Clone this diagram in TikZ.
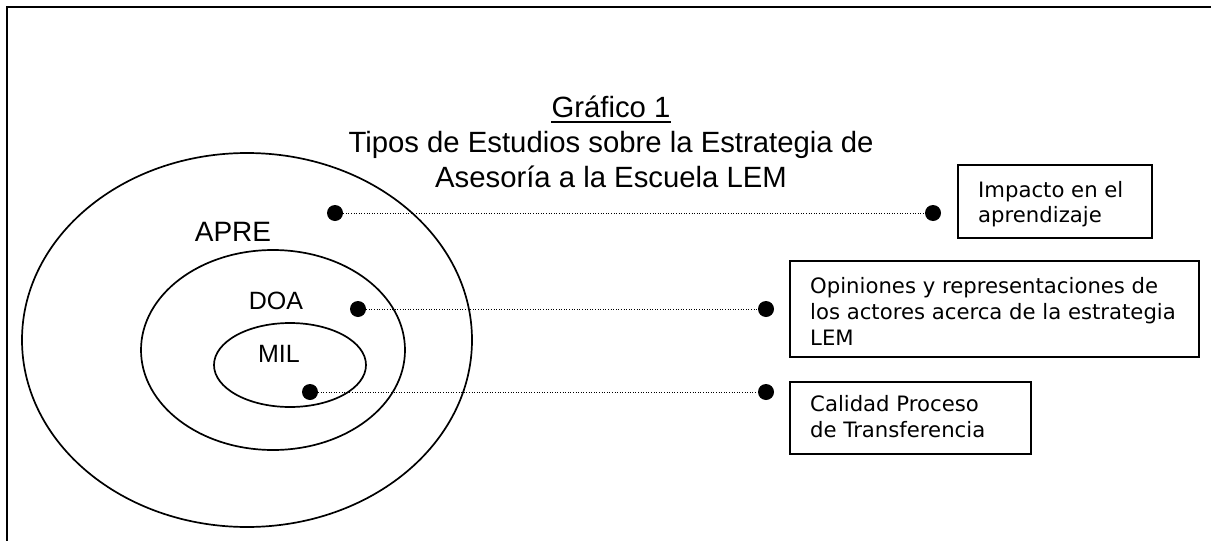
\documentclass[tikz,border=0pt]{standalone}
\usepackage{fontspec}
\setmainfont{Liberation Sans}
\newfontfamily\boxfont{DejaVu Sans}
\usetikzlibrary{shapes.geometric}
\begin{document}
\begin{tikzpicture}[x=1pt,y=-1pt,
  ring/.style={draw, ellipse, line width=1.7pt, inner sep=0pt},
  dot/.style={circle, fill=black, inner sep=0pt, minimum size=16pt},
  link/.style={line width=1pt, dash pattern=on 1pt off 1.6pt},
  titletext/.style={inner sep=0pt, anchor=base, font=\fontsize{29.3}{34}\selectfont},
  ringlabel/.style={inner sep=0pt, font=\fontsize{25}{30}\selectfont},
  infobox/.style={draw, line width=1.7pt, inner sep=0pt, anchor=north west},
  infotext/.style={inner sep=0pt, anchor=base west, font=\boxfont\fontsize{21.2}{25}\selectfont}]
\useasboundingbox (0,0) rectangle (1211,541);

% page frame (top and left edges)
\coordinate (fbl) at (7,541);
\coordinate (ftl) at (7,7);
\coordinate (ftr) at (1211,7);
\draw[line width=2pt] (fbl) -- (ftl) -- (ftr);

% title
\node[titletext] (t1) at (611,117) {Gráfico 1};
\draw[line width=2.2pt] ([yshift=-5pt]t1.base west) -- ([yshift=-5pt]t1.base east);
\node[titletext] (t2) at (611,152) {Tipos de Estudios sobre la Estrategia de};
\node[titletext] (t3) at (611,187) {Asesoría a la Escuela LEM};

% nested study types
\node[ring, minimum width=450pt, minimum height=374pt] (apre) at (247,340) {};
\node[ring, minimum width=264pt, minimum height=200pt] (doa) at (273,350) {};
\node[ring, minimum width=152pt, minimum height=84pt] (mil) at (290,365) {};
\node[ringlabel, font=\fontsize{28}{32}\selectfont] (lapre) at (233,232) {APRE};
\node[ringlabel] (ldoa) at (276,301) {DOA};
\node[ringlabel] (lmil) at (279,354) {MIL};

% markers and dotted links
\node[dot] (d1a) at (335,213) {};
\node[dot] (d1b) at (933,213) {};
\node[dot] (d2a) at (358,309) {};
\node[dot] (d2b) at (766,309) {};
\node[dot] (d3a) at (310,392) {};
\node[dot] (d3b) at (766,392) {};
\draw[link] (d1a.east) -- (d1b.west);
\draw[link] (d2a.east) -- (d2b.west);
\draw[link] (d3a.east) -- (d3b.west);

% description boxes
\node[infobox, minimum width=194pt, minimum height=73pt] (b1) at (957,164) {};
\node[infotext] (b1l1) at (978,197) {Impacto en el};
\node[infotext] (b1l2) at (978,222) {aprendizaje};

\node[infobox, minimum width=409pt, minimum height=96pt] (b2) at (789,260) {};
\node[infotext] (b2l1) at (810,293) {Opiniones y representaciones de};
\node[infotext] (b2l2) at (810,319) {los actores acerca de la estrategia};
\node[infotext] (b2l3) at (810,345) {LEM};

\node[infobox, minimum width=241pt, minimum height=72pt] (b3) at (789,381) {};
\node[infotext] (b3l1) at (810,411) {Calidad Proceso};
\node[infotext] (b3l2) at (810,437) {de Transferencia};
\end{tikzpicture}
\end{document}
